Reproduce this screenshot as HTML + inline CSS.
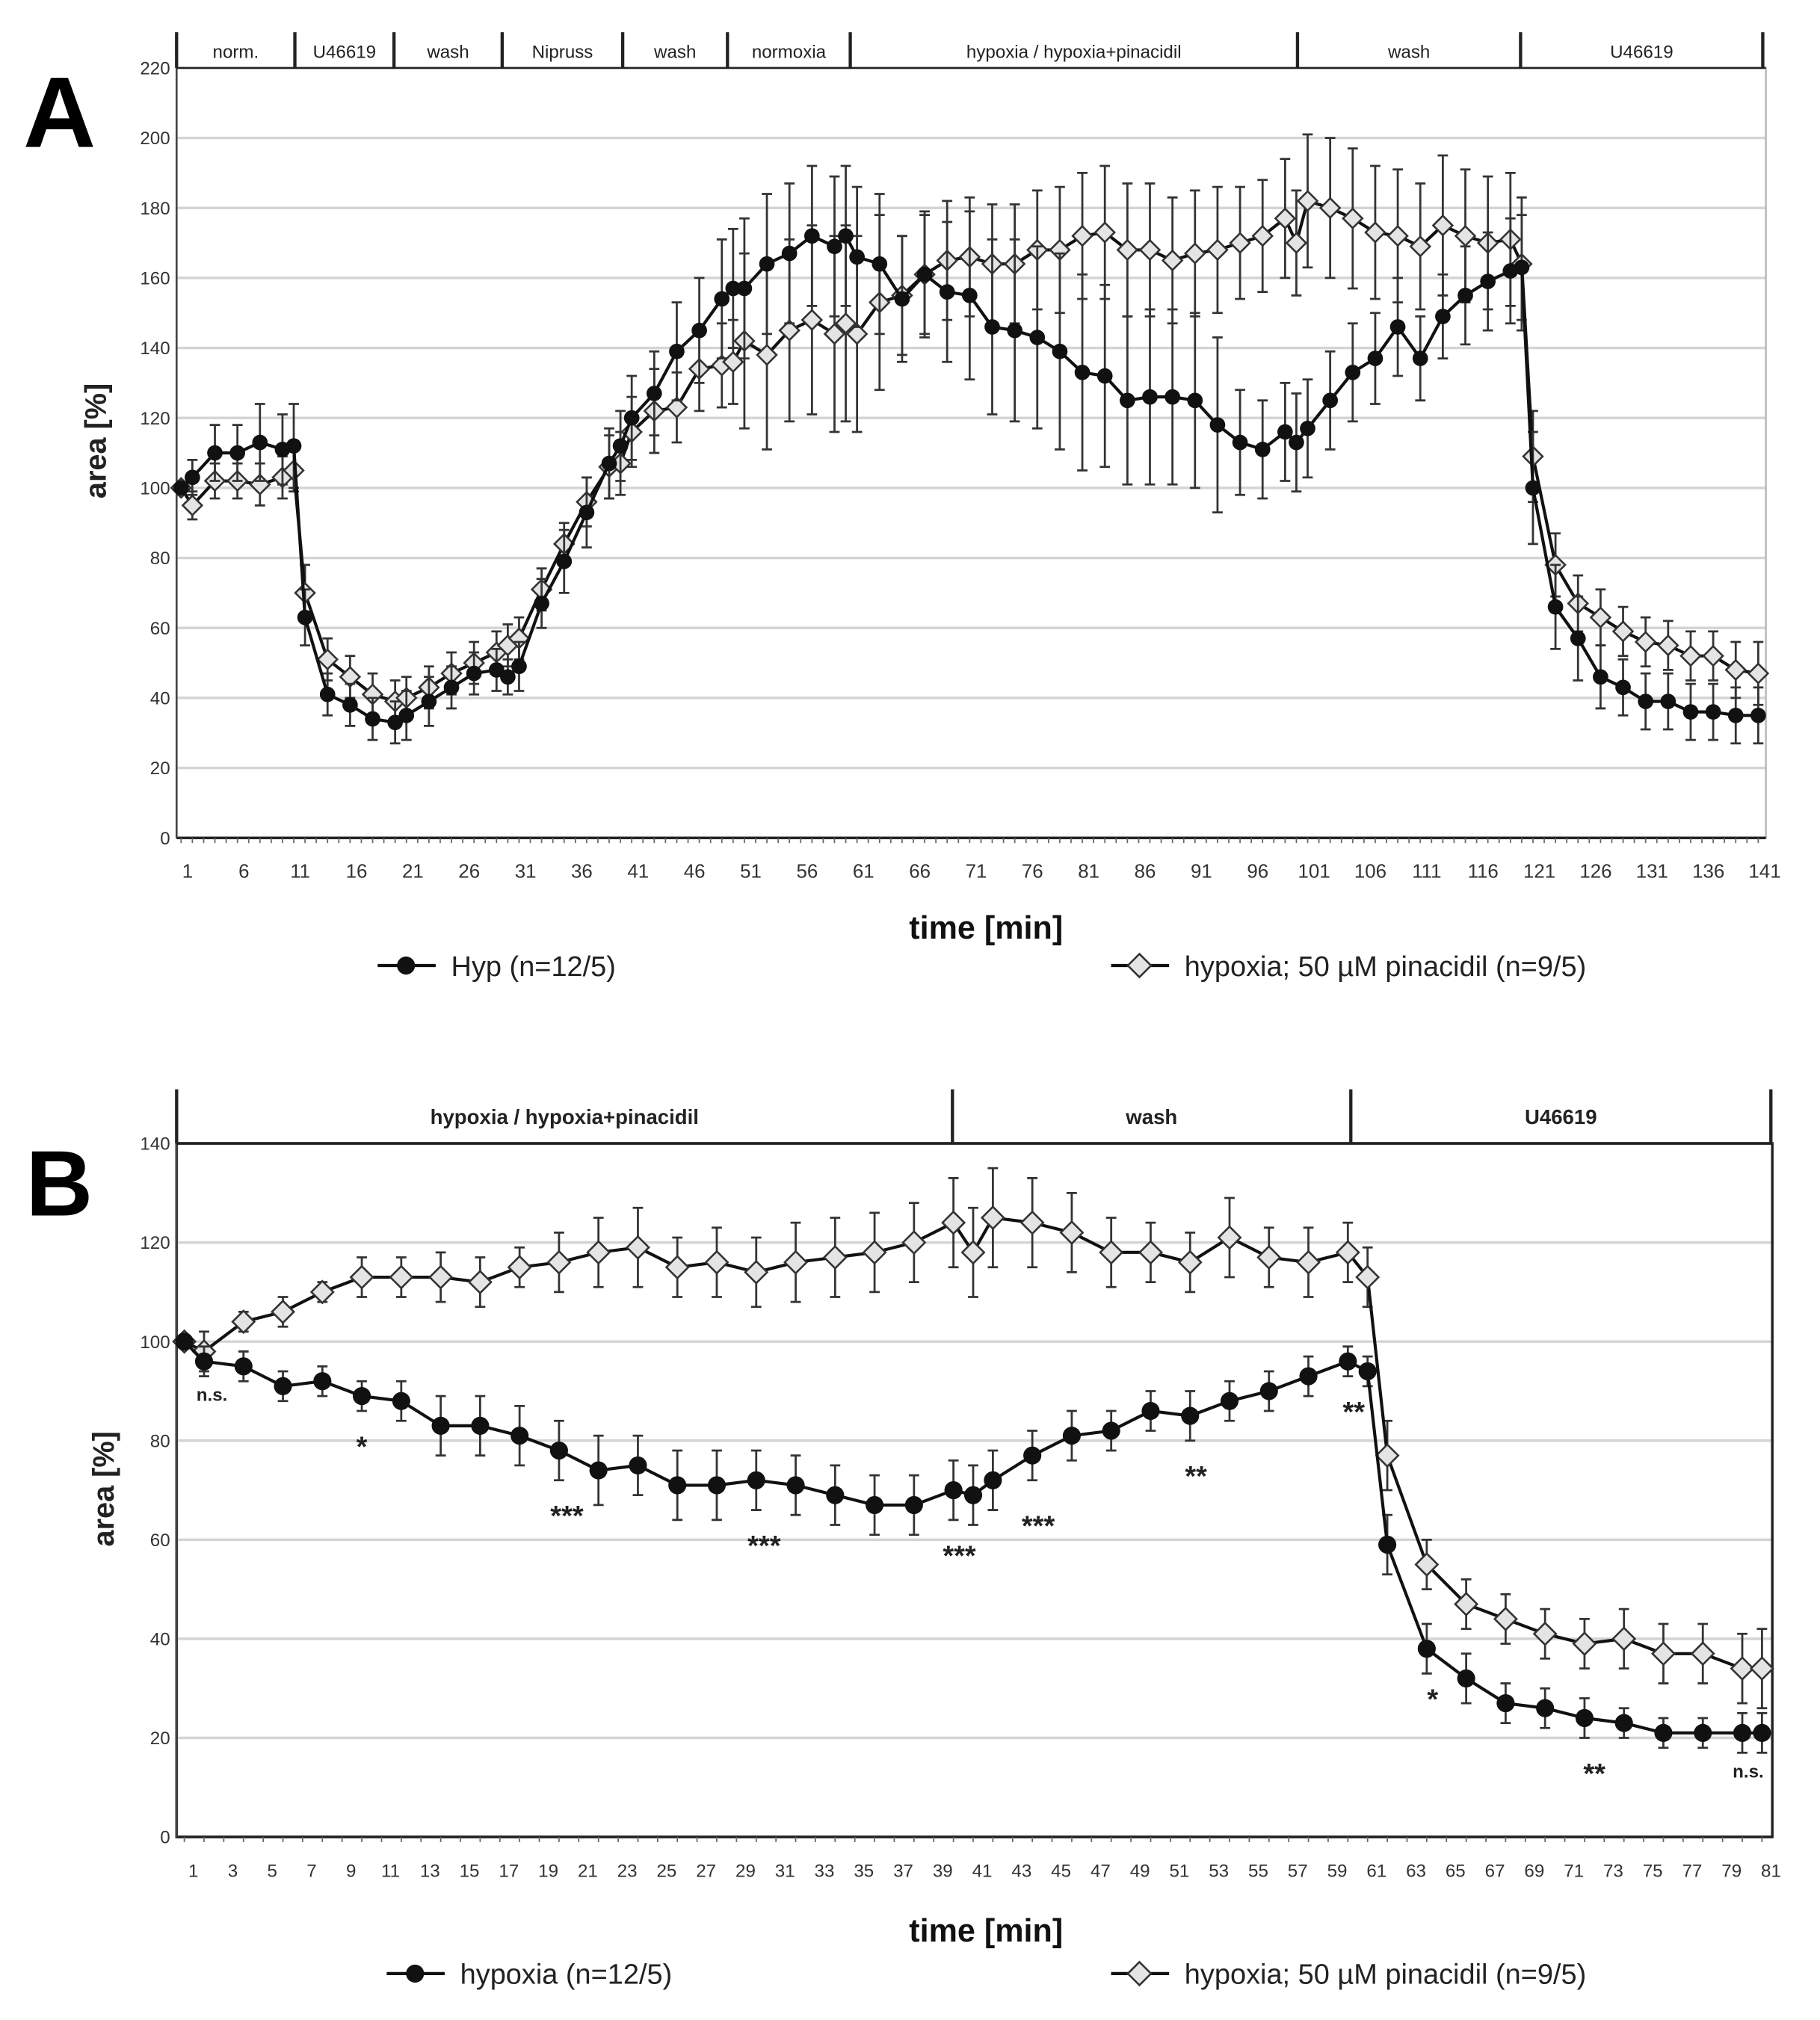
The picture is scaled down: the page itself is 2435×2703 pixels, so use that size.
<!DOCTYPE html>
<html><head><meta charset="utf-8"><style>
html,body{margin:0;padding:0;background:#fff;}
svg{display:block;font-family:"Liberation Sans",Arial,sans-serif;}
</style></head><body>
<svg id="fig" width="2435" height="2703" viewBox="0 0 1412 1567" preserveAspectRatio="none" xmlns="http://www.w3.org/2000/svg">
<rect width="1412" height="1567" fill="#fff"/>
<g id="panelA"></g>
<g id="panelB"></g>
</svg>
<script>
// ---- Panel A data ----
const tA = [1,2,4,6,8,10,11,12,14,16,18,20,21,23,25,27,29,30,31,33,35,37,39,40,41,43,45,47,49,50,51,53,55,57,59,60,61,63,65,67,69,71,73,75,77,79,81,83,85,87,89,91,93,95,97,99,100,101,103,105,107,109,111,113,115,117,119,120,121,123,125,127,129,131,133,135,137,139,141];
const hypA = [100,103,110,110,113,111,112,63,41,38,34,33,35,39,43,47,48,46,49,67,79,93,107,112,120,127,139,145,154,157,157,164,167,172,169,172,166,164,154,161,156,155,146,145,143,139,133,132,125,126,126,125,118,113,111,116,113,117,125,133,137,146,137,149,155,159,162,163,100,66,57,46,43,39,39,36,36,35,35];
const pinA = [100,95,102,102,101,103,105,70,51,46,41,39,40,43,47,50,53,55,57,71,84,96,106,107,116,122,123,134,135,136,142,138,145,148,144,147,144,153,155,161,165,166,164,164,168,168,172,173,168,168,165,167,168,170,172,177,170,182,180,177,173,172,169,175,172,170,171,164,109,78,67,63,59,56,55,52,52,48,47];
const errHA = [0,5,8,8,11,10,12,8,6,6,6,6,7,7,6,6,6,5,7,7,9,10,10,10,12,12,14,15,17,17,20,20,20,20,20,20,20,20,18,18,20,24,25,26,26,28,28,26,24,25,25,25,25,15,14,14,14,14,14,14,13,14,12,12,14,14,15,15,16,12,12,9,8,8,8,8,8,8,8];
const errPA = [0,4,5,5,6,6,6,8,6,6,6,6,6,6,6,6,6,6,6,6,6,7,9,9,10,12,10,12,12,12,25,27,26,27,28,28,28,25,17,17,17,17,17,17,17,18,18,19,19,19,18,18,18,16,16,17,15,19,20,20,19,19,18,20,19,19,19,19,13,9,8,8,7,7,7,7,7,8,9];
const ticksA = [1,6,11,16,21,26,31,36,41,46,51,56,61,66,71,76,81,86,91,96,101,106,111,116,121,126,131,136,141];
const yTicksA = [0,20,40,60,80,100,120,140,160,180,200,220];
const phasesA = ["norm.","U46619","wash","Nipruss","wash","normoxia","hypoxia / hypoxia+pinacidil","wash","U46619"];
const phaseBoundsA = [0.6,11.1,19.9,29.5,40.2,49.5,60.4,100.1,119.9,141.4];
// ---- Panel B data ----
const tB = [1,2,4,6,8,10,12,14,16,18,20,22,24,26,28,30,32,34,36,38,40,41,42,44,46,48,50,52,54,56,58,60,61,62,64,66,68,70,72,74,76,78,80,81];
const hypB = [100,96,95,91,92,89,88,83,83,81,78,74,75,71,71,72,71,69,67,67,70,69,72,77,81,82,86,85,88,90,93,96,94,59,38,32,27,26,24,23,21,21,21,21];
const pinB = [100,98,104,106,110,113,113,113,112,115,116,118,119,115,116,114,116,117,118,120,124,118,125,124,122,118,118,116,121,117,116,118,113,77,55,47,44,41,39,40,37,37,34,34];
const errHB = [0,3,3,3,3,3,4,6,6,6,6,7,6,7,7,6,6,6,6,6,6,6,6,5,5,4,4,5,4,4,4,3,3,6,5,5,4,4,4,3,3,3,4,4];
const errPB = [0,4,2,3,2,4,4,5,5,4,6,7,8,6,7,7,8,8,8,8,9,9,10,9,8,7,6,6,8,6,7,6,6,7,5,5,5,5,5,6,6,6,7,8];
const ticksB = [1,3,5,7,9,11,13,15,17,19,21,23,25,27,29,31,33,35,37,39,41,43,45,47,49,51,53,55,57,59,61,63,65,67,69,71,73,75,77,79,81];
const yTicksB = [0,20,40,60,80,100,120,140];
const phasesB = ["hypoxia / hypoxia+pinacidil","wash","U46619"];
const phaseBoundsB = [0.61,39.95,60.15,81.45];
const sigLabels = ["n.s.","*","***","***","***","***","**","**","*","**","n.s."];
const sigT = [2.4,10,20.4,30.4,40.3,44.3,52.3,60.3,64.3,72.5,80.3];
const sigV = [88,80,66,60,58,64,74,87,29,14,12];

const NS="http://www.w3.org/2000/svg";
function el(parent,tag,attrs,text){const e=document.createElementNS(NS,tag);for(const k in attrs)e.setAttribute(k,attrs[k]);if(text!==undefined)e.textContent=text;parent.appendChild(e);return e;}

function drawPanel(g,cfg){
  const xs=cfg.xs, ys=cfg.ys;
  cfg.yTicks.forEach(v=>{
    if(v>0 && v<cfg.yMax){const l=el(g,'line',{x1:cfg.left,x2:cfg.right,y1:ys(v),y2:ys(v),stroke:'#d4d4d4','stroke-width':2});
    
    }
    const t=el(g,'text',{x:cfg.left-5,y:ys(v)+5,'text-anchor':'end','font-size':14,fill:'#333'},String(v));
    
    
  });
  const fr=el(g,'rect',{x:cfg.left,y:ys(cfg.yMax),width:cfg.right-cfg.left,height:ys(0)-ys(cfg.yMax),fill:'none',stroke:cfg.frameColor,'stroke-width':cfg.frameW});
  
  
  el(g,'line',{x1:cfg.left,x2:cfg.right,y1:ys(0),y2:ys(0),stroke:'#222','stroke-width':2});
  el(g,'line',{x1:cfg.left,x2:cfg.left,y1:ys(cfg.yMax),y2:ys(0),stroke:'#444','stroke-width':1.5});
  for(let t=1;t<=cfg.tMax;t++){el(g,'line',{x1:xs(t),x2:xs(t),y1:ys(0),y2:ys(0)+4,stroke:'#666','stroke-width':1});}
  cfg.xTicks.forEach(t=>{
    const tx=el(g,'text',{x:xs(t)+cfg.labOff,y:ys(0)+31,'text-anchor':'middle','font-size':cfg.xFont,fill:'#333'},String(t));
    
    
  });
  const hy=ys(cfg.yMax);
  el(g,'line',{x1:cfg.left,x2:cfg.right,y1:hy,y2:hy,stroke:'#222','stroke-width':cfg.frameW});
  cfg.bounds.forEach(b=>{el(g,'line',{x1:xs(b),x2:xs(b),y1:cfg.headTop,y2:hy,stroke:'#222','stroke-width':2.5});});
  cfg.phases.forEach((p,i)=>{
    const cx=(xs(cfg.bounds[i])+xs(cfg.bounds[i+1]))/2;
    const t=el(g,'text',{x:cx,y:(cfg.headTop+hy)/2+6,'text-anchor':'middle','font-size':cfg.headFont,'font-weight':cfg.headWeight,fill:'#222'},p);
    
    
  });
  [[cfg.pin,cfg.errP,'pin'],[cfg.hyp,cfg.errH,'hyp']].forEach(([vals,err,kind])=>{
    const sg=el(g,'g',{});
    
    
    vals.forEach((v,i)=>{
      const x=xs(cfg.t[i]);const e=err[i];
      if(e>0){
        const eb=el(sg,'path',{d:`M${x},${ys(v-e)}V${ys(v+e)}M${x-4},${ys(v+e)}H${x+4}M${x-4},${ys(v-e)}H${x+4}`,stroke:'#333','stroke-width':1.6,fill:'none'});
        
        
      }
    });
    const d=vals.map((v,i)=>(i?'L':'M')+xs(cfg.t[i])+','+ys(v)).join('');
    el(sg,'path',{d:d,stroke:'#111','stroke-width':2.4,fill:'none'});
    vals.forEach((v,i)=>{
      const x=xs(cfg.t[i]),y=ys(v);
      let m;
      if(kind==='hyp'){m=el(sg,'circle',{cx:x,cy:y,r:cfg.mr,fill:'#111'});}
      else{const r=cfg.mr+1.5;m=el(sg,'path',{d:`M${x},${y-r}L${x+r},${y}L${x},${y+r}L${x-r},${y}Z`,fill:'#e4e4e4',stroke:'#333','stroke-width':1.5});}
      
      
    });
  });
}

const gA=document.getElementById('panelA');
const ysA=v=>650-v*(650-52.7)/220;
const xsA=t=>140.5+(t-1)*8.74;
drawPanel(gA,{xs:xsA,ys:ysA,left:137,right:1370,yMax:220,yTicks:yTicksA,tMax:141,xTicks:ticksA,labOff:5,xFont:15,
  headTop:25,bounds:phaseBoundsA,phases:phasesA,headFont:14,headWeight:'normal',frameColor:'#bbb',frameW:1.5,
  t:tA,hyp:hypA,pin:pinA,errH:errHA,errP:errPA,mr:6});

const gB=document.getElementById('panelB');
const ysB=v=>1425-v*(1425-887)/140;
const xsB=t=>143+(t-1)*15.3;
drawPanel(gB,{xs:xsB,ys:ysB,left:137,right:1375,yMax:140,yTicks:yTicksB,tMax:81,xTicks:ticksB,labOff:7,xFont:14,
  headTop:845,bounds:phaseBoundsB,phases:phasesB,headFont:16,headWeight:'bold',frameColor:'#222',frameW:2,
  t:tB,hyp:hypB,pin:pinB,errH:errHB,errP:errPB,mr:7});

sigLabels.forEach((s,i)=>{
  const t=el(gB,'text',{x:xsB(sigT[i]),y:ysB(sigV[i])+(s.indexOf('*')>=0?12:0),'text-anchor':'middle','font-size':s.indexOf('*')>=0?22:14,'font-weight':'bold',fill:'#222'},s);
  
  
});

const svg=document.getElementById('fig');
function txt(attrs,s,name){const t=el(svg,'text',attrs,s);return t;}
txt({x:18,y:114,'font-size':78,'font-weight':'bold'},'A','panel-a-letter');
txt({x:20,y:943,'font-size':72,'font-weight':'bold'},'B','panel-b-letter');
txt({x:0,y:0,'font-size':23,'font-weight':'bold',transform:'translate(82,342) rotate(-90)','text-anchor':'middle',fill:'#222'},'area [%]','y-axis-title-a');
txt({x:0,y:0,'font-size':23,'font-weight':'bold',transform:'translate(88,1155) rotate(-90)','text-anchor':'middle',fill:'#222'},'area [%]','y-axis-title-b');
txt({x:765,y:728,'font-size':25,'font-weight':'bold','text-anchor':'middle',fill:'#111'},'time [min]','x-axis-title-a');
txt({x:765,y:1506,'font-size':25,'font-weight':'bold','text-anchor':'middle',fill:'#111'},'time [min]','x-axis-title-b');

function legend(x1,y,label,kind,name){
  const g=el(svg,'g',{});
  
  
  el(g,'line',{x1:x1,x2:x1+45,y1:y,y2:y,stroke:'#111','stroke-width':2.5});
  const cx=x1+22;
  if(kind==='hyp')el(g,'circle',{cx:cx,cy:y,r:7,fill:'#111'});
  else el(g,'path',{d:`M${cx},${y-9}L${cx+9},${y}L${cx},${y+9}L${cx-9},${y}Z`,fill:'#e4e4e4',stroke:'#333','stroke-width':1.5});
  el(g,'text',{x:x1+57,y:y+8,'font-size':22,fill:'#222'},label);
}
legend(293,749,'Hyp (n=12/5)','hyp','legend-hyp-a');
legend(862,749,'hypoxia; 50 µM pinacidil (n=9/5)','pin','legend-pinacidil-a');
legend(300,1531,'hypoxia (n=12/5)','hyp','legend-hypoxia-b');
legend(862,1531,'hypoxia; 50 µM pinacidil (n=9/5)','pin','legend-pinacidil-b');
</script>
</body></html>
